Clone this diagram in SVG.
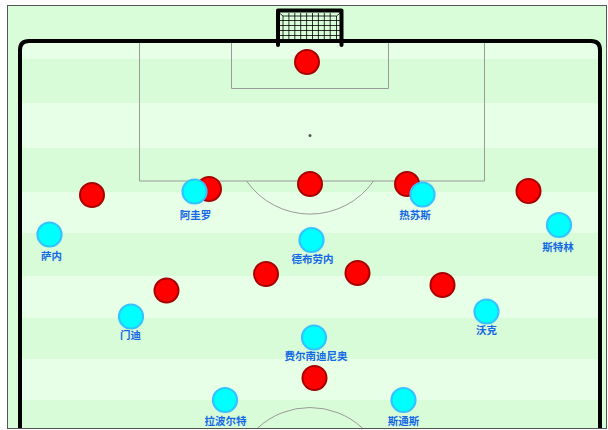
<svg xmlns="http://www.w3.org/2000/svg" width="608" height="430" viewBox="0 0 608 430">
<style>
.line{fill:none;stroke:#9a9a9a;stroke-width:1}
.red circle{fill:#ff0000;stroke:#a80000;stroke-width:2}
.blue circle{fill:#00ffff;stroke:#33c4ff;stroke-width:2.2}
.lbl{font-family:"Noto Sans CJK SC","Noto Sans",sans-serif;font-size:10.5px;font-weight:bold;fill:#1468e6;text-anchor:middle}
.net{stroke:#000;stroke-width:0.8;fill:none}
</style>
<g id="field">
<rect x="0" y="0" width="608" height="430" fill="#ffffff"/>
<rect x="7.5" y="5.5" width="599" height="423" fill="#d9fcd9" stroke="#555" stroke-width="1"/>
<rect x="20" y="41" width="580" height="18" fill="#e7fee7"/>
<rect x="20" y="59" width="580" height="44" fill="#d7fcd7"/>
<rect x="20" y="103" width="580" height="45" fill="#e7fee7"/>
<rect x="20" y="148" width="580" height="44" fill="#d7fcd7"/>
<rect x="20" y="192" width="580" height="41" fill="#e7fee7"/>
<rect x="20" y="233" width="580" height="43" fill="#d7fcd7"/>
<rect x="20" y="276" width="580" height="42" fill="#e7fee7"/>
<rect x="20" y="318" width="580" height="41" fill="#d7fcd7"/>
<rect x="20" y="359" width="580" height="41" fill="#e7fee7"/>
<rect x="20" y="400" width="580" height="28" fill="#d7fcd7"/>
<path class="line" d="M139.5,41 V181 H484.5 V41"/>
<path class="line" d="M231.5,41 V88.5 H388.5 V41"/>
<path class="line" d="M246.5,181 A77.5,77.5 0 0 0 373.5,181"/>
<circle cx="310" cy="135.5" r="1.5" fill="#555"/>
<path class="line" d="M257.7,428 A77,77 0 0 1 362.3,428"/>
<path d="M20,428 V50 Q20,41 29,41 H591 Q600,41 600,50 V428" fill="none" stroke="#000" stroke-width="4"/>
<rect x="7.5" y="5.5" width="599" height="423" fill="none" stroke="#555" stroke-width="1"/>
</g>
<g id="goal">
<path class="net" d="M278,12 L283,16 M341.5,12 L336.5,16 M283,16 H336.5 M283,16 V41 M336.5,16 V41"/>
<path class="net" d="M288.9,13 V41 M294.8,13 V41 M300.7,13 V41 M306.6,13 V41 M312.5,13 V41 M318.4,13 V41 M324.3,13 V41 M330.2,13 V41"/>
<path class="net" d="M279,20.5 H340.5 M279,25.5 H340.5 M279,30.5 H340.5 M279,35.5 H340.5"/>
<path d="M278,45 V10.5 H341.5 V45" fill="none" stroke="#000" stroke-width="4" stroke-linecap="round" stroke-linejoin="round"/>
</g>
<g id="connectors"></g>
<g class="red" id="team-red">
<g id="r1"><circle cx="307" cy="62" r="12"/></g>
<g id="r2"><circle cx="209" cy="189" r="12"/></g>
<g id="r3"><circle cx="310" cy="184" r="12"/></g>
<g id="r4"><circle cx="407" cy="184" r="12"/></g>
<g id="r5"><circle cx="92" cy="195" r="12"/></g>
<g id="r6"><circle cx="528.5" cy="191" r="12"/></g>
<g id="r7"><circle cx="266" cy="274" r="12"/></g>
<g id="r8"><circle cx="357.5" cy="273" r="12"/></g>
<g id="r9"><circle cx="166.5" cy="290.5" r="12"/></g>
<g id="r10"><circle cx="442.5" cy="285" r="12"/></g>
<g id="r11"><circle cx="314.5" cy="378" r="12"/></g>
</g>
<g class="blue" id="team-blue">
<g id="aguero"><circle cx="194.5" cy="191.5" r="12"/><text class="lbl" x="195.5" y="219">阿圭罗</text></g>
<g id="jesus"><circle cx="422.5" cy="194.5" r="12"/><text class="lbl" x="415" y="219">热苏斯</text></g>
<g id="sane"><circle cx="49.5" cy="234.5" r="12"/><text class="lbl" x="51.5" y="259.5">萨内</text></g>
<g id="sterling"><circle cx="559" cy="225" r="12"/><text class="lbl" x="558" y="251">斯特林</text></g>
<g id="debruyne"><circle cx="311.5" cy="240" r="12"/><text class="lbl" x="312.5" y="263">德布劳内</text></g>
<g id="mendy"><circle cx="131" cy="316.5" r="12"/><text class="lbl" x="130.5" y="339">门迪</text></g>
<g id="walker"><circle cx="486.5" cy="311.5" r="12"/><text class="lbl" x="486.5" y="334">沃克</text></g>
<g id="fernandinho"><circle cx="314" cy="337.5" r="12"/><text class="lbl" x="316" y="360">费尔南迪尼奥</text></g>
<g id="laporte"><circle cx="225" cy="400" r="12"/><text class="lbl" x="225.5" y="424.5">拉波尔特</text></g>
<g id="stones"><circle cx="403.5" cy="400" r="12"/><text class="lbl" x="403.5" y="424.5">斯通斯</text></g>
</g>
</svg>
